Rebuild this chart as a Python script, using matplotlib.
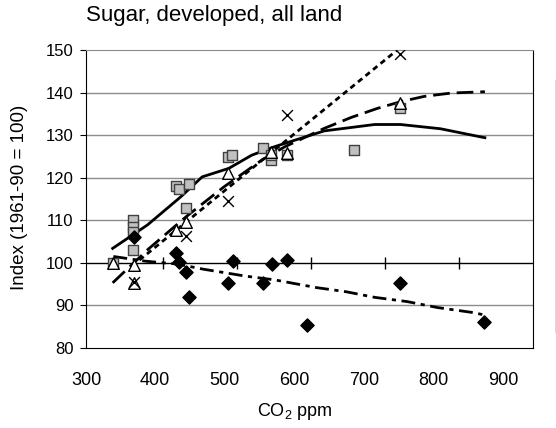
import numpy as np
import matplotlib
matplotlib.use("Agg")
import matplotlib.pyplot as plt
from matplotlib.lines import Line2D

plt.rcParams['font.family'] = ['Liberation Sans', 'DejaVu Sans']
plt.rcParams['mathtext.default'] = 'regular'

# scatter data (CO2 ppm, index)
sq_x = [332, 360, 360, 360, 360, 418, 422, 435, 431, 488, 493, 535, 546, 546, 568, 658, 720]
sq_y = [100, 110, 108.5, 107.2, 103, 118.1, 117.4, 118.5, 113, 124.8, 125.4, 126.9, 124.2, 125.3, 125.3, 126.5, 136.3]

tri_x = [332, 361, 361, 417, 431, 488, 546, 568, 720]
tri_y = [100, 99.5, 95.2, 107.7, 109.7, 121, 126.1, 125.7, 137.5]

x_x = [361, 431, 488, 568, 720]
x_y = [95.5, 106.4, 114.6, 134.7, 149]

dia_x = [361, 418, 422, 431, 435, 488, 494, 535, 547, 568, 594, 720, 834]
dia_y = [106, 102.2, 100.1, 97.9, 92, 95.2, 100.5, 95.2, 99.7, 100.7, 85.4, 95.2, 86]

# trend lines
sq_trend_x = [332, 379, 424, 453, 489, 520, 551, 587, 618, 686, 721, 775, 829, 835]
sq_trend_y = [103.4, 108.9, 115.5, 120.2, 122.2, 125.3, 127.3, 129.3, 131.0, 132.5, 132.5, 131.5, 129.6, 129.4]

tri_trend_x = [332, 380, 431, 482, 534, 565, 618, 655, 690, 722, 753, 790, 835]
tri_trend_y = [95.3, 103.2, 110.8, 117.8, 124.2, 127.3, 131.6, 134.2, 136.3, 137.9, 139.1, 139.9, 140.2]

x_trend_x = [358, 725]
x_trend_y = [99.2, 151.2]

dia_trend_x = [333, 376, 420, 455, 511, 551, 607, 648, 686, 730, 771, 820, 833]
dia_trend_y = [101.5, 100.4, 99.7, 98.5, 96.9, 96.0, 94.2, 93.2, 91.9, 90.9, 89.5, 88.3, 87.8]

yticks = [80, 90, 100, 110, 120, 130, 140, 150]
xlabels = ['300', '400', '500', '600', '700', '800', '900']
xlabel_pos = [296, 388.6, 482.6, 577.9, 671.8, 765.8, 859.7]

fig = plt.figure(figsize=(5.56, 4.28), dpi=100)
ax = fig.add_axes([86 / 556, 80 / 428, 447 / 556, 298 / 428])

ax.set_xlim(300, 900)
ax.set_ylim(80, 150)

# gridlines
for y in yticks[1:-1]:
    if y != 100:
        ax.axhline(y, color='#8c8c8c', lw=1, zorder=1)
ax.axhline(100, color='black', lw=1, zorder=1)

# axis crossing at 100 with tick marks
sec = ax.secondary_xaxis(20 / 70)
sec.set_xticks([400, 500, 600, 700, 800])
sec.tick_params(direction='inout', length=9, width=1, labelbottom=False, color='black')
sec.spines['bottom'].set_visible(False)

lw = 2.0
ax.plot(sq_trend_x, sq_trend_y, color='black', lw=lw, ls='-', zorder=2)
ax.plot(tri_trend_x, tri_trend_y, color='black', lw=lw, ls=(0, (6, 2.5)), zorder=2)
ax.plot(x_trend_x, x_trend_y, color='black', lw=lw, ls=(0, (2, 1.5)), zorder=2)
ax.plot(dia_trend_x, dia_trend_y, color='black', lw=lw, ls=(0, (5, 2, 1.5, 2)), zorder=2)

ax.scatter(sq_x, sq_y, marker='s', s=60, facecolor='#c0c0c0', edgecolor='#404040', lw=1, zorder=3)
ax.scatter(tri_x, tri_y, marker='^', s=70, facecolor='white', edgecolor='black', lw=1, zorder=4)
ax.scatter(x_x, x_y, marker='x', s=60, color='black', lw=1, zorder=4)
ax.scatter(dia_x, dia_y, marker='D', s=45, color='black', zorder=4)

ax.set_yticks(yticks)
ax.tick_params(axis='y', direction='out', length=4, pad=5, labelsize=12)
ax.set_xticks(xlabel_pos)
ax.set_xticklabels(xlabels)
ax.tick_params(axis='x', length=0, pad=17, labelsize=13)

for side in ['left', 'bottom', 'right']:
    ax.spines[side].set_color('black')
ax.spines['top'].set_color('#8c8c8c')

fig.text(86 / 556, 1 - 16 / 428, 'Sugar, developed, all land', fontsize=16, va='center', ha='left')
fig.text(20 / 556, 1 - 197 / 428, 'Index (1961-90 = 100)', fontsize=13.5, rotation=90, va='center', ha='center')
fig.text(295 / 556, 1 - 412 / 428, 'CO$_2$ ppm', fontsize=13, va='center', ha='center')

# edge of the legend box, cut off by the image border
fig.add_artist(Line2D([555.5 / 556, 555.5 / 556], [1 - 80 / 428, 1 - 332 / 428], color='#404040', lw=1))

fig.savefig('out.png', dpi=100)
